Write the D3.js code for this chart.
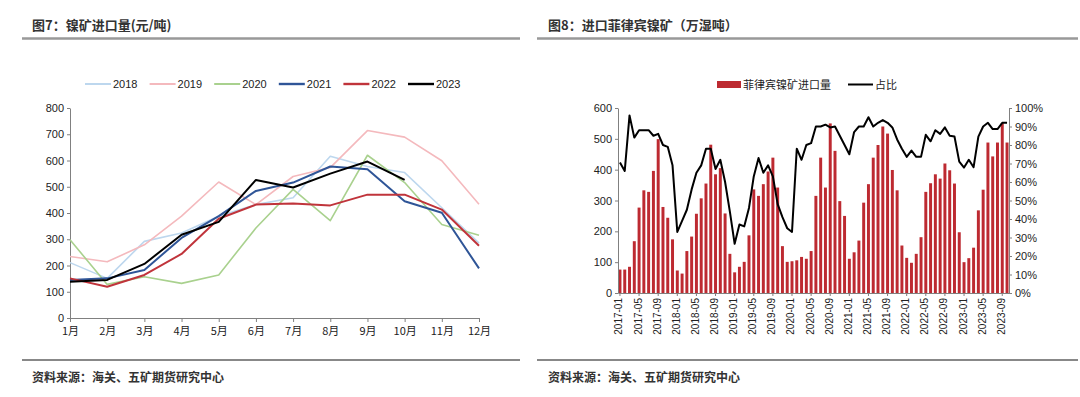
<!DOCTYPE html>
<html>
<head>
<meta charset="utf-8">
<script src="https://cdn.jsdelivr.net/npm/d3@7"></script>
<style>
  body { margin: 0; background: #fff; }
  svg { font-family: "Liberation Sans", Arial, "Noto Sans CJK SC", sans-serif; }
  .cn { font-family: "Noto Sans CJK SC", sans-serif; }
  .axis path, .axis line { stroke: #808080; }
  .axis text { fill: #222; font-size: 11px; }
</style>
</head>
<body>
<svg id="chart" width="1080" height="397"></svg>
<script>
// ---- left chart: monthly values by year
var months = ["1月","2月","3月","4月","5月","6月","7月","8月","9月","10月","11月","12月"];
var years = ["2018","2019","2020","2021","2022","2023"];
var yearColors = ["#bdd7ee","#f4b9bd","#a9d18e","#2f5597","#c0343b","#000000"];
var yearWidths = [1.6, 1.6, 1.6, 2, 2, 2];
var v2018 = [211,151,292,324,388,432,458,616,577,554,420,285];
var v2019 = [234,214,279,388,518,432,539,573,714,689,599,433];
var v2020 = [298,128,157,132,164,343,490,371,620,516,356,315];
var v2021 = [145,151,183,305,388,484,516,577,567,445,401,189];
var v2022 = [151,119,164,244,378,432,436,429,470,470,413,275];
var v2023 = [138,145,206,317,366,526,497,550,596,526];
var yearValues = [v2018, v2019, v2020, v2021, v2022, v2023];

// ---- right chart: Philippine nickel ore imports (万湿吨) and share
var ym = [];
for (var y = 2017; y <= 2023; y++) {
    for (var m = 1; m <= 12; m++) {
        if (y == 2023 && m > 10) break;
        ym.push(y + "-" + (m < 10 ? "0" + m : m));
    }
}
var imports = [
    76,76,85,168,277,333,328,396,499,279,244,174,
    73,63,136,183,257,307,355,481,385,405,258,127,
    67,85,101,187,336,315,353,394,439,342,152,101,
    103,106,117,111,136,315,439,342,550,461,298,250,
    111,132,170,293,353,439,480,540,517,399,333,154,
    114,98,127,181,328,356,385,371,420,398,355,197,
    100,113,147,268,335,488,443,488,551,488
];
var share = [
    70.5,66,96,84,88,88,88,85,86,80,79,69,
    33,39,45,56,65,69,78,78,67,72,60,44,
    26.6,37,36,46,63,73,65,69,63,48,41,35,
    33,78,72,80,81,90,90,91,89.5,90,85,80,
    75,87,90,90,95,90,92,93.5,92,89.5,83,78,
    73.6,77,73.6,73.6,85.5,82,88,86,89.5,85,84.6,71,
    67.8,72,68,84.5,90,92,88.6,88.6,92,92
];
var tickLabels = ym.filter(function(d, i) { return i % 4 == 0; });

var svg = d3.select("#chart");

// titles, rules, sources
function header(x, lx1, lx2, title) {
    svg.append("text").attr("class", "cn").attr("x", x).attr("y", 30)
        .style("font-size", "13px").style("font-weight", "bold").attr("fill", "#333")
        .text(title);
    svg.append("line").attr("x1", lx1).attr("x2", lx2).attr("y1", 38.5).attr("y2", 38.5)
        .attr("stroke", "#999").attr("stroke-width", 2.5);
    svg.append("line").attr("x1", lx1).attr("x2", lx2).attr("y1", 360).attr("y2", 360)
        .attr("stroke", "#888").attr("stroke-width", 2);
    svg.append("text").attr("class", "cn").attr("x", x).attr("y", 382)
        .style("font-size", "12px").style("font-weight", "bold").attr("fill", "#333")
        .text("资料来源：海关、五矿期货研究中心");
}
header(32, 22, 520, "图7：镍矿进口量(元/吨)");
header(548, 537, 1078, "图8：进口菲律宾镍矿（万湿吨）");

// ---------------- left chart
var x1 = d3.scalePoint().domain(months).range([70, 479]);
var y1 = d3.scaleLinear().domain([0, 800]).range([318, 108]);

svg.append("g").attr("class", "axis").attr("transform", "translate(70,0)")
    .call(d3.axisLeft(y1).tickValues(d3.range(0, 801, 100)).tickSize(3).tickSizeOuter(0));
var xa1 = svg.append("g").attr("class", "axis").attr("transform", "translate(0,318)")
    .call(d3.axisBottom(x1).tickSize(4).tickSizeOuter(0));
xa1.selectAll("text").attr("class", "cn").attr("dy", "0.9em");

var line1 = d3.line()
    .x(function(d, i) { return x1(months[i]); })
    .y(function(d) { return y1(d); });

years.forEach(function(yr, k) {
    svg.append("path").datum(yearValues[k])
        .attr("d", line1)
        .attr("fill", "none")
        .attr("stroke", yearColors[k])
        .attr("stroke-width", yearWidths[k])
        .attr("stroke-linejoin", "round");
    var lx = 85 + k * 64.6;
    svg.append("line").attr("x1", lx).attr("x2", lx + 26).attr("y1", 84).attr("y2", 84)
        .attr("stroke", yearColors[k]).attr("stroke-width", yearWidths[k] + 0.4);
    svg.append("text").attr("x", lx + 28).attr("y", 88).style("font-size", "11px")
        .attr("fill", "#222").text(yr);
});

// ---------------- right chart
var x2 = d3.scaleBand().domain(ym).range([618, 1009]).paddingInner(0.38).paddingOuter(0.1);
var y2 = d3.scaleLinear().domain([0, 600]).range([293, 108]);
var y3 = d3.scaleLinear().domain([0, 1]).range([293, 108]);

svg.append("g").selectAll("rect").data(imports).enter().append("rect")
    .attr("x", function(d, i) { return x2(ym[i]); })
    .attr("width", x2.bandwidth())
    .attr("y", function(d) { return y2(d); })
    .attr("height", function(d) { return 293 - y2(d); })
    .attr("fill", "#bd2a31");

svg.append("path").datum(share)
    .attr("d", d3.line()
        .x(function(d, i) { return x2(ym[i]) + x2.bandwidth() / 2; })
        .y(function(d) { return y3(d / 100); }))
    .attr("fill", "none").attr("stroke", "#000").attr("stroke-width", 2)
    .attr("stroke-linejoin", "round");

svg.append("g").attr("class", "axis").attr("transform", "translate(618,0)")
    .call(d3.axisLeft(y2).tickValues(d3.range(0, 601, 100)).tickSize(3).tickSizeOuter(0));
svg.append("g").attr("class", "axis").attr("transform", "translate(1009,0)")
    .call(d3.axisRight(y3).tickValues(d3.range(0, 1.01, 0.1)).tickFormat(d3.format(".0%"))
        .tickSize(3).tickSizeOuter(0));
var xa2 = svg.append("g").attr("class", "axis").attr("transform", "translate(0,293)")
    .call(d3.axisBottom(x2).tickValues(tickLabels).tickSize(3).tickSizeOuter(0));
xa2.selectAll("text")
    .style("font-size", "10px")
    .attr("text-anchor", "end")
    .attr("dx", "-0.5em").attr("dy", "-0.35em")
    .attr("transform", "rotate(-90)");

// right legend
svg.append("rect").attr("x", 717).attr("y", 81).attr("width", 24).attr("height", 7).attr("fill", "#bd2a31");
svg.append("text").attr("class", "cn").attr("x", 743).attr("y", 89).style("font-size", "11px")
    .attr("fill", "#222").text("菲律宾镍矿进口量");
svg.append("line").attr("x1", 848).attr("x2", 873).attr("y1", 84.5).attr("y2", 84.5)
    .attr("stroke", "#000").attr("stroke-width", 2);
svg.append("text").attr("class", "cn").attr("x", 875).attr("y", 89).style("font-size", "11px")
    .attr("fill", "#222").text("占比");
</script>
</body>
</html>
